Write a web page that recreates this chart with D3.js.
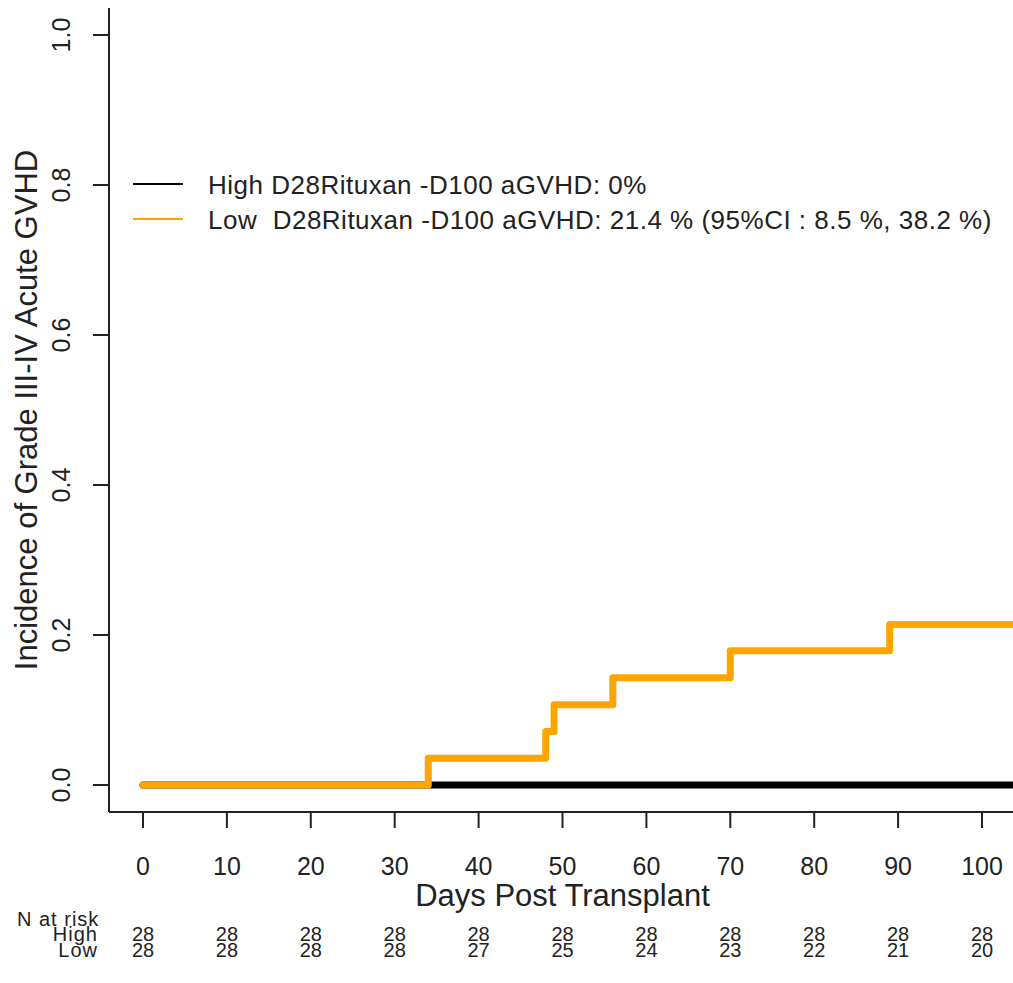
<!DOCTYPE html>
<html>
<head>
<meta charset="utf-8">
<script src="https://cdn.jsdelivr.net/npm/d3@7"></script>
<style>
  body { margin: 0; background: #fff; }
  text { font-family: "Liberation Sans", Arial, sans-serif; fill: #222; }
</style>
</head>
<body>
<svg id="chart" width="1013" height="983"></svg>
<script>
const xTicks = [0, 10, 20, 30, 40, 50, 60, 70, 80, 90, 100];
const yTicks = [0, 0.2, 0.4, 0.6, 0.8, 1.0];
const highTimes = [0, 105];
const highVals = [0, 0];
const lowTimes = [0, 34, 48, 49, 56, 70, 89, 105];
const lowVals = [0, 0.0357, 0.0714, 0.107, 0.143, 0.179, 0.214, 0.214];
const riskHigh = [28, 28, 28, 28, 28, 28, 28, 28, 28, 28, 28];
const riskLow = [28, 28, 28, 28, 27, 25, 24, 23, 22, 21, 20];
const legendLabels = [
  "High D28Rituxan -D100 aGVHD: 0%",
  "Low  D28Rituxan -D100 aGVHD: 21.4 % (95%CI : 8.5 %, 38.2 %)"
];
const colors = ["#000000", "#FFA500"];

const svg = d3.select("#chart");
const x = d3.scaleLinear().domain([0, 100]).range([143, 982]);
const y = d3.scaleLinear().domain([0, 1]).range([785, 35]);
const left = 109, bottom = 812;

// L-shaped frame
svg.append("line").attr("x1", left).attr("x2", left).attr("y1", 8).attr("y2", bottom)
  .attr("stroke", "#222").attr("stroke-width", 2);
svg.append("line").attr("x1", left).attr("x2", 1013).attr("y1", bottom).attr("y2", bottom)
  .attr("stroke", "#222").attr("stroke-width", 2);

// y axis
const yAxis = svg.append("g");
yAxis.selectAll("line").data(yTicks).join("line")
  .attr("x1", left - 16).attr("x2", left).attr("y1", d => y(d)).attr("y2", d => y(d))
  .attr("stroke", "#222").attr("stroke-width", 2);
yAxis.selectAll("text").data(yTicks).join("text")
  .attr("transform", d => `translate(70,${y(d)}) rotate(-90)`)
  .attr("text-anchor", "middle")
  .style("font-size", "25px")
  .text(d => d.toFixed(1));

// x axis
const xAxis = svg.append("g");
xAxis.selectAll("line").data(xTicks).join("line")
  .attr("x1", d => x(d)).attr("x2", d => x(d)).attr("y1", bottom).attr("y2", bottom + 16)
  .attr("stroke", "#222").attr("stroke-width", 2);
xAxis.selectAll("text").data(xTicks).join("text")
  .attr("x", d => x(d)).attr("y", 875)
  .attr("text-anchor", "middle")
  .style("font-size", "25px")
  .text(d => d);

// axis titles
svg.append("text").attr("x", x(50)).attr("y", 906).attr("text-anchor", "middle")
  .style("font-size", "31px").text("Days Post Transplant");
svg.append("text").attr("transform", `translate(37,${y(0.5)}) rotate(-90)`)
  .attr("text-anchor", "middle").style("font-size", "31px")
  .text("Incidence of Grade III-IV Acute GVHD");

// curves: high first, low drawn on top
const line = d3.line().x(d => x(d[0])).y(d => y(d[1])).curve(d3.curveStepAfter);
const series = [d3.zip(highTimes, highVals), d3.zip(lowTimes, lowVals)];
svg.selectAll("path.curve").data(series).join("path")
  .attr("class", "curve")
  .attr("d", line)
  .attr("fill", "none")
  .attr("stroke", (d, i) => colors[i])
  .attr("stroke-width", 7)
  .attr("stroke-linecap", "round")
  .attr("stroke-linejoin", "round");

// legend
const legend = svg.append("g");
legendLabels.forEach((lab, i) => {
  const ly = 184 + i * 35;
  legend.append("line").attr("x1", 133).attr("x2", 183).attr("y1", ly).attr("y2", ly)
    .attr("stroke", colors[i]).attr("stroke-width", 2);
  legend.append("text").attr("x", 208).attr("y", ly + 10).style("font-size", "26px")
    .style("letter-spacing", "0.5px").style("white-space", "pre").text(lab);
});

// risk table
svg.append("text").attr("x", 17).attr("y", 926).style("font-size", "20px")
  .style("letter-spacing", "1px").text("N at risk");
[["High", riskHigh], ["Low", riskLow]].forEach(([name, vals], i) => {
  const ry = 941 + i * 16;
  svg.append("text").attr("x", 98).attr("y", ry).attr("text-anchor", "end")
    .style("font-size", "20px").style("letter-spacing", "1px").text(name);
  svg.append("g").selectAll("text").data(vals).join("text")
    .attr("x", (d, j) => x(xTicks[j])).attr("y", ry)
    .attr("text-anchor", "middle").style("font-size", "20px")
    .text(d => d);
});
</script>
</body>
</html>
